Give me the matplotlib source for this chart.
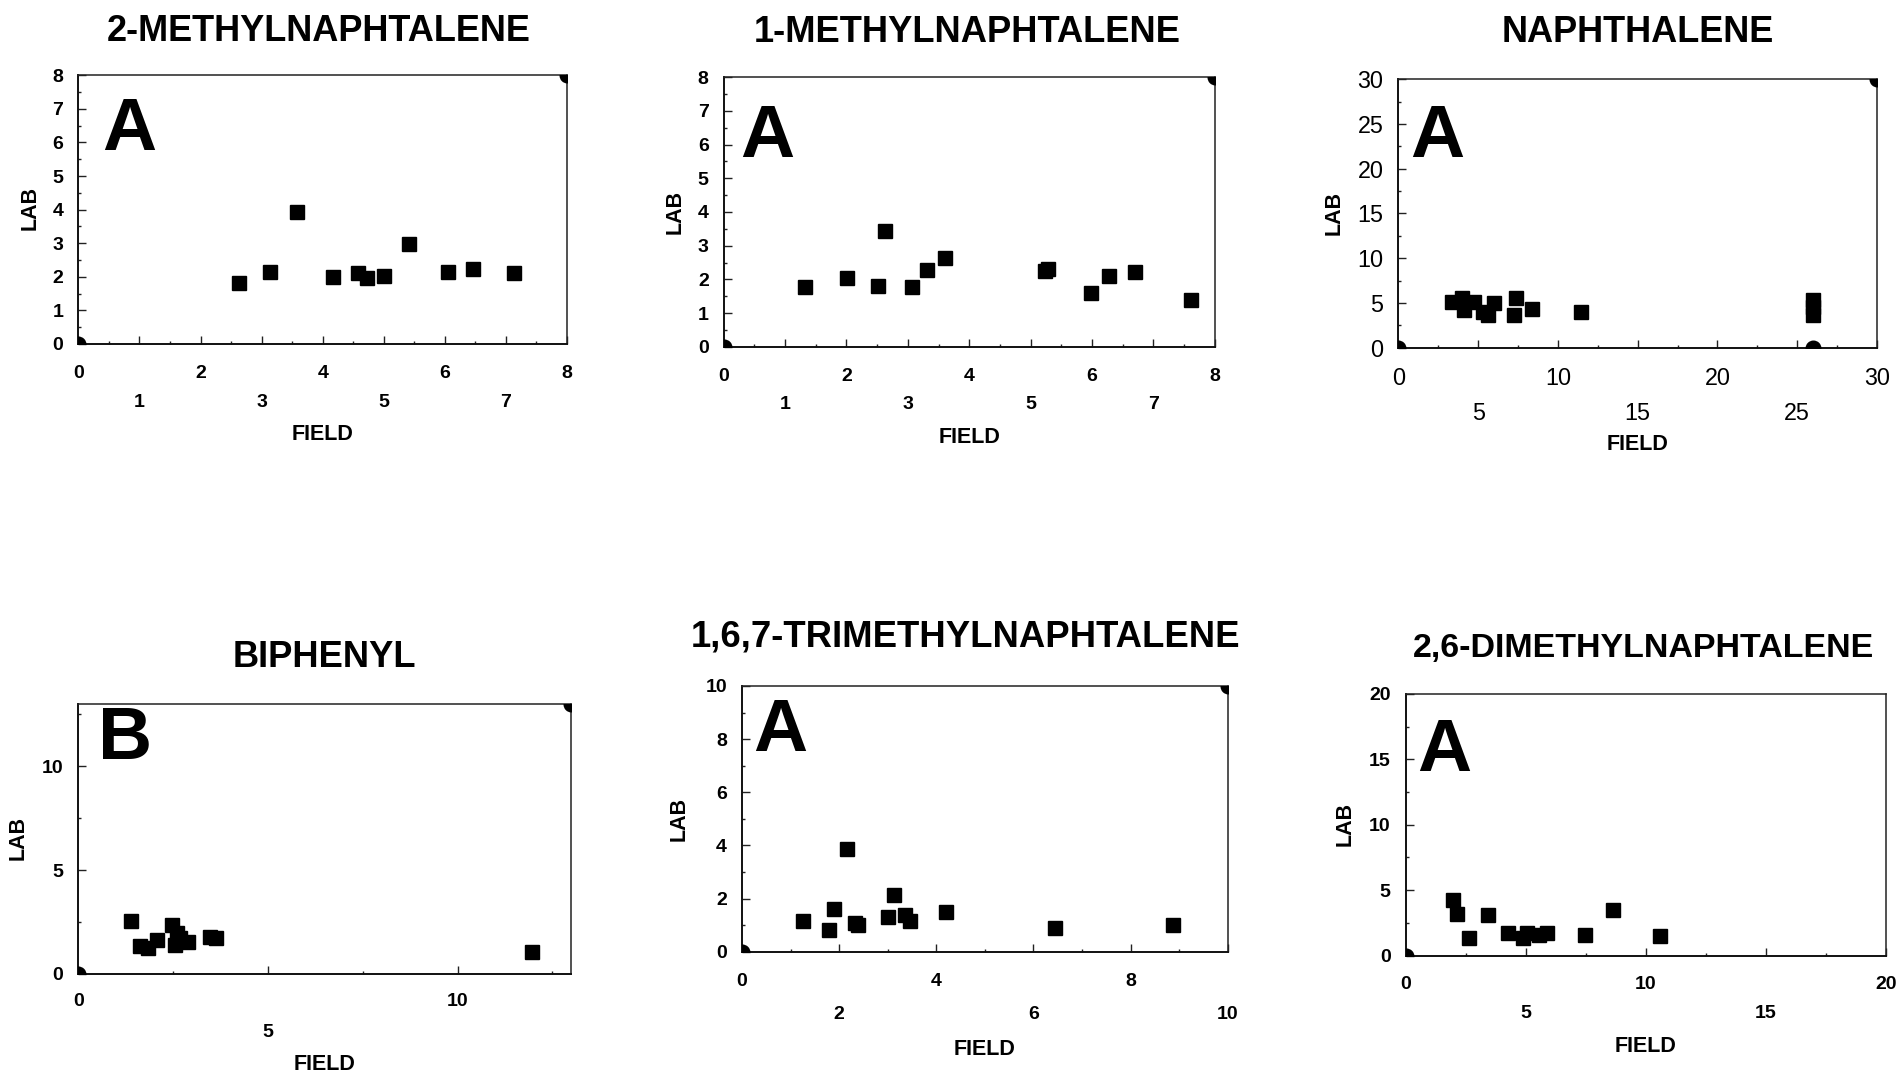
import matplotlib.pyplot as plt
from matplotlib.ticker import FixedLocator

plt.rcParams['font.family'] = ['Liberation Sans', 'DejaVu Sans']

W, H = 1899, 1073

# ---- data ----
titles = ['2-METHYLNAPHTALENE', '1-METHYLNAPHTALENE', 'NAPHTHALENE',
          'BIPHENYL', '1,6,7-TRIMETHYLNAPHTALENE', '2,6-DIMETHYLNAPHTALENE']
letters = ['A', 'A', 'A', 'B', 'A', 'A']

m2_field = [2.63, 3.13, 3.58, 4.17, 4.58, 4.72, 5.00, 5.42, 6.05, 6.46, 7.13]
m2_lab = [1.83, 2.15, 3.94, 1.99, 2.10, 1.96, 2.02, 2.97, 2.13, 2.24, 2.10]
m2_ref_field = [0, 8]
m2_ref_lab = [0, 8]

m1_field = [1.33, 2.01, 2.51, 2.63, 3.07, 3.31, 3.61, 5.24, 5.29, 5.98, 6.28, 6.70, 7.61]
m1_lab = [1.78, 2.05, 1.81, 3.45, 1.78, 2.28, 2.62, 2.26, 2.30, 1.60, 2.10, 2.23, 1.39]
m1_ref_field = [0, 8]
m1_ref_lab = [0, 8]

nap_field = [3.34, 3.96, 4.14, 4.75, 5.32, 5.64, 6.01, 7.38, 7.25, 8.37, 11.46, 26.0, 26.0, 26.0]
nap_lab = [5.14, 5.59, 4.21, 5.14, 4.03, 3.65, 4.96, 5.52, 3.65, 4.29, 3.95, 5.3, 4.5, 3.7]
nap_ref_field = [0, 30, 26.0]
nap_ref_lab = [0, 30, 0.0]

bip_field = [1.40, 1.62, 1.83, 2.08, 2.46, 2.59, 2.56, 2.67, 2.89, 3.48, 3.62, 11.96]
bip_lab = [2.57, 1.37, 1.24, 1.64, 2.36, 1.96, 1.40, 1.72, 1.56, 1.80, 1.72, 1.08]
bip_ref_field = [0, 13]
bip_ref_lab = [0, 13]

tmn_field = [1.26, 1.79, 1.89, 2.17, 2.33, 2.39, 3.00, 3.13, 3.36, 3.45, 4.20, 6.45, 8.88]
tmn_lab = [1.15, 0.82, 1.59, 3.85, 1.09, 1.00, 1.32, 2.13, 1.38, 1.17, 1.48, 0.88, 1.00]
tmn_ref_field = [0, 10]
tmn_ref_lab = [0, 10]

dmn_field = [1.96, 2.12, 2.63, 3.43, 4.26, 4.88, 5.04, 5.54, 5.90, 7.48, 8.63, 10.58]
dmn_lab = [4.25, 3.16, 1.32, 3.11, 1.71, 1.32, 1.71, 1.58, 1.71, 1.58, 3.49, 1.50]
dmn_ref_field = [0]
dmn_ref_lab = [0]

fields = [m2_field, m1_field, nap_field, bip_field, tmn_field, dmn_field]
labs = [m2_lab, m1_lab, nap_lab, bip_lab, tmn_lab, dmn_lab]
ref_fields = [m2_ref_field, m1_ref_field, nap_ref_field, bip_ref_field, tmn_ref_field, dmn_ref_field]
ref_labs = [m2_ref_lab, m1_ref_lab, nap_ref_lab, bip_ref_lab, tmn_ref_lab, dmn_ref_lab]

limits = [8, 8, 30, 13, 10, 20]
major_ticks = [list(range(0, 9)), list(range(0, 9)), list(range(0, 31, 5)),
               [0, 5, 10], list(range(0, 11, 2)), list(range(0, 21, 5))]
minor_ticks = [[i + 0.5 for i in range(8)], [i + 0.5 for i in range(8)],
               [2.5 + 5 * i for i in range(6)], [2.5, 7.5, 12.5],
               list(range(1, 10, 2)), [2.5 + 5 * i for i in range(4)]]
bold_ticks = [True, True, False, True, True, True]

# ---- layout in pixels ----
rects = [(78.4, 567, 75.3, 344), (723.7, 1214.7, 77.3, 346.7), (1398.4, 1876.9, 79.3, 347.7),
         (78.4, 571.4, 704, 974), (742, 1227.8, 686, 951.7), (1405.7, 1885.7, 694, 955.5)]
title_xy = [(319, 40.7), (967.6, 41.7), (1637.3, 41.7), (324.5, 666.7), (966, 646.7), (1643.5, 657)]
title_size = [26, 26.2, 26, 26.2, 26.3, 24.5]
lab_xy = [(30.6, 208), (674.7, 211.7), (1334, 213), (18.4, 838), (678.8, 819), (1345, 824)]
field_xy = [(322.4, 440), (969.8, 443), (1637.3, 450), (324.5, 1070), (984.9, 1055), (1645.2, 1051.7)]
letter_xy = [(102, 150), (740, 156.7), (1410.3, 156.7), (98, 759), (753.5, 750.7), (1417.4, 770.7)]
tick_size = [14, 14, 16.8, 14, 14, 14]
xpads = [15, 15, 13.7, 13.7, 15, 15]
xlinesp = [1.9, 1.9, 1.66, 2.1, 2.25, 1.9]


def fx(x):
    return x / W


def fy(y):
    return 1 - y / H


fig = plt.figure(figsize=(W / 100, H / 100), dpi=100)

for i in range(6):
    l, r, t, b = rects[i]
    ax = fig.add_axes([fx(l), fy(b), (r - l) / W, (b - t) / H])
    lim = limits[i]
    ax.set_xlim(0, lim)
    ax.set_ylim(0, lim)

    ax.plot(fields[i], labs[i], 's', color='black', ms=10.2, mec='black', mew=1, zorder=3)
    ax.plot(ref_fields[i], ref_labs[i], 'o', color='black', ms=10.5, zorder=3)

    ax.xaxis.set_major_locator(FixedLocator(major_ticks[i]))
    ax.yaxis.set_major_locator(FixedLocator(major_ticks[i]))
    ax.xaxis.set_minor_locator(FixedLocator(minor_ticks[i]))
    ax.yaxis.set_minor_locator(FixedLocator(minor_ticks[i]))

    weight = 'bold' if bold_ticks[i] else 'normal'
    # alternate labels drop to a second row
    xlabels = [str(v) if k % 2 == 0 else '\n' + str(v) for k, v in enumerate(major_ticks[i])]
    ax.set_xticklabels(xlabels, fontsize=tick_size[i], fontweight=weight, linespacing=xlinesp[i])
    ax.set_yticklabels([str(v) for v in major_ticks[i]], fontsize=tick_size[i], fontweight=weight)

    ax.tick_params(which='both', direction='in', width=1, color='#222222')
    ax.tick_params(which='major', length=6)
    ax.tick_params(which='minor', length=2.5)
    ax.tick_params(axis='x', which='major', pad=xpads[i])
    ax.tick_params(axis='y', which='major', pad=10.8)

    for side in ['left', 'bottom']:
        ax.spines[side].set_linewidth(1.4)
        ax.spines[side].set_color('#111111')
    for side in ['top', 'right']:
        ax.spines[side].set_linewidth(1.1)
        ax.spines[side].set_color('#222222')

    tx, ty = title_xy[i]
    fig.text(fx(tx), fy(ty), titles[i], ha='center', va='baseline',
             fontsize=title_size[i], fontweight='bold')
    lx, ly = lab_xy[i]
    fig.text(fx(lx), fy(ly), 'LAB', ha='center', va='center', rotation=90,
             fontsize=15.5, fontweight='bold')
    gx, gy = field_xy[i]
    fig.text(fx(gx), fy(gy), 'FIELD', ha='center', va='baseline',
             fontsize=15.5, fontweight='bold')
    ax_x, ax_y = letter_xy[i]
    fig.text(fx(ax_x), fy(ax_y), letters[i], ha='left', va='baseline',
             fontsize=54, fontweight='bold')

fig.savefig('out.png', dpi=100)
